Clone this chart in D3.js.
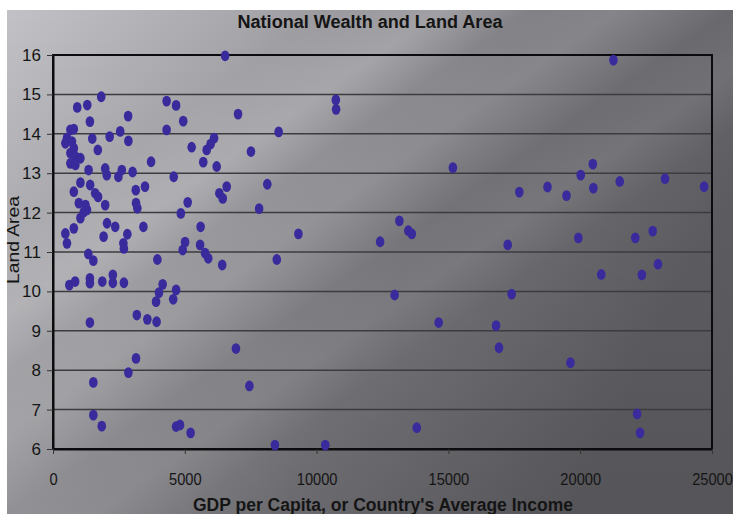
<!DOCTYPE html>
<html><head><meta charset="utf-8">
<script src="https://cdn.jsdelivr.net/npm/d3@7"></script>
<style>
body{margin:0;background:#fff;}
svg{display:block;}
</style></head>
<body>
<svg id="c" width="733" height="514"></svg>
<script>
const title = "National Wealth and Land Area";
const xTitle = "GDP per Capita, or Country's Average Income";
const yTitle = "Land Area";
const xTicks = [0, 5000, 10000, 15000, 20000, 25000];
const yTicks = [6, 7, 8, 9, 10, 11, 12, 13, 14, 15, 16];
// GDP per capita values
const gdp = [
 6530,1830,920,1300,4310,4670,7020,2850,1400,4940,4310,2550,2150,1490,2860,6110,5980,5830,5260,1700,
 3720,5700,6210,1980,2040,2610,2480,3020,4580,1350,1040,1410,790,1600,1710,3140,3490,6590,6310,6440,
 980,1230,1980,3150,3200,5110,1170,1290,1040,4850,2050,2360,790,3430,5600,470,1920,2820,530,2670,
 5010,5580,2690,4920,5770,5890,1340,1530,3960,6420,620,840,1400,1400,1870,2270,2270,2690,4160,4020,
 3910,4670,4560,1400,3180,3580,3930,6940,3150,2860,1530,1530,1850,4670,4820,5220,
 10730,10740,8560,7510,15170,8130,7820,13140,13480,13610,9310,12410,8490,12960,14630,7450,13800,8420,10330,
 21260,20480,20020,18760,17690,19480,20500,21500,23220,24700,17250,19930,22090,22750,22950,20800,22340,17400,16810,16920,
 19630,22160,22270,
 660,790,530,470,720,790,660,850,1040,660,850
];
// Land area values
const land = [
 15.98,14.94,14.67,14.73,14.83,14.72,14.50,14.45,14.31,14.32,14.10,14.06,13.93,13.88,13.82,13.89,13.74,13.59,13.66,13.59,
 13.29,13.28,13.17,13.12,12.95,13.08,12.91,13.03,12.91,13.08,12.76,12.70,12.53,12.49,12.40,12.57,12.66,12.66,12.49,12.36,
 12.24,12.19,12.19,12.24,12.11,12.26,12.02,12.07,11.86,11.98,11.73,11.64,11.60,11.64,11.64,11.47,11.39,11.45,11.22,11.22,
 11.25,11.18,11.09,11.05,10.97,10.84,10.95,10.78,10.81,10.67,10.16,10.25,10.33,10.21,10.25,10.42,10.22,10.22,10.18,9.97,
 9.74,10.04,9.80,9.21,9.40,9.29,9.23,8.55,8.30,7.94,7.69,6.86,6.58,6.57,6.61,6.41,
 14.86,14.62,14.05,13.55,13.14,12.72,12.10,11.79,11.54,11.46,11.46,11.26,10.81,9.91,9.21,7.60,6.54,6.10,6.10,
 15.87,13.23,12.95,12.65,12.52,12.43,12.62,12.79,12.86,12.66,11.18,11.36,11.36,11.53,10.69,10.43,10.42,9.93,9.13,8.57,
 8.19,6.89,6.41,
 14.10,14.12,13.89,13.76,13.80,13.63,13.51,13.42,13.38,13.25,13.21
];
const points = gdp.map((g,i)=>({g, a: land[i]}));

const svg = d3.select("#c");
const W = 733, H = 514;
const L = 53, R = 712, T = 55, B = 449;
const FONT = "'Liberation Sans',Arial,sans-serif";

function narrow(sel, f){
  sel.each(function(){
    const w = this.getComputedTextLength();
    d3.select(this).attr("textLength", w*f).attr("lengthAdjust","spacingAndGlyphs");
  });
}

const defs = svg.append("defs");
const bg = defs.append("linearGradient").attr("id","bg").attr("x1","0").attr("y1","0").attr("x2","1").attr("y2","0.35");
bg.append("stop").attr("offset","0").attr("stop-color","#c2c1c6");
bg.append("stop").attr("offset","0.3").attr("stop-color","#a7a6ab");
bg.append("stop").attr("offset","0.65").attr("stop-color","#7a797e");
bg.append("stop").attr("offset","1").attr("stop-color","#616065");
const sheen = defs.append("linearGradient").attr("id","sheen").attr("x1","0").attr("y1","0").attr("x2","1").attr("y2","1");
[[0,0],[0.22,0.0],[0.3,0.2],[0.36,0.05],[0.42,0.13],[0.5,0.0],[0.56,0.08],[0.62,0],[1,0]].forEach(([o,a])=>
  sheen.append("stop").attr("offset",o).attr("stop-color","#ffffff").attr("stop-opacity",a));
const vshade = defs.append("linearGradient").attr("id","vshade").attr("x1","0").attr("y1","0").attr("x2","0").attr("y2","1");
vshade.append("stop").attr("offset","0").attr("stop-color","#000").attr("stop-opacity",0);
vshade.append("stop").attr("offset","1").attr("stop-color","#000").attr("stop-opacity",0.12);

["url(#bg)","url(#sheen)","url(#vshade)"].forEach(f=>
  svg.append("rect").attr("x",7).attr("y",10).attr("width",W-7).attr("height",H-10).attr("fill",f));

const x = d3.scaleLinear().domain([0,25000]).range([L,R]);
const y = d3.scaleLinear().domain([6,16]).range([B,T]);

// gridlines
svg.append("g").selectAll("line").data(yTicks.filter(t=>t>6 && t<16)).join("line")
  .attr("x1",L).attr("x2",R).attr("y1",d=>y(d)).attr("y2",d=>y(d))
  .attr("stroke","#3c3c40").attr("stroke-width",1.5);

// frame
svg.append("rect").attr("x",L).attr("y",T).attr("width",R-L).attr("height",B-T)
  .attr("fill","none").attr("stroke","#0c0c0e").attr("stroke-width",2);

// axes
const yAxis = d3.axisLeft(y).tickValues(yTicks).tickSize(6).tickSizeOuter(0).tickPadding(6);
const gy = svg.append("g").attr("transform",`translate(${L},0)`).call(yAxis);
gy.select(".domain").attr("stroke","#0c0c0e").attr("stroke-width",2);
gy.selectAll(".tick line").attr("stroke","#333");
gy.selectAll("text").attr("font-family",FONT).attr("font-size",17).attr("fill","#151515");

const xAxis = d3.axisBottom(x).tickValues(xTicks).tickSize(5).tickSizeOuter(0).tickPadding(19).tickFormat(d3.format("d"));
const gx = svg.append("g").attr("transform",`translate(0,${B})`).call(xAxis);
gx.select(".domain").attr("stroke","#0c0c0e").attr("stroke-width",2);
gx.selectAll(".tick line").attr("stroke","#333");
gx.selectAll("text").attr("font-family",FONT).attr("font-size",17).attr("fill","#151515").call(narrow,0.86);

// points
svg.append("g").selectAll("ellipse").data(points).join("ellipse")
  .attr("cx",d=>x(d.g)).attr("cy",d=>y(d.a)).attr("rx",4.3).attr("ry",5.4)
  .attr("fill","#3a2b9c");

// titles
svg.append("text").attr("x",370).attr("y",28).attr("text-anchor","middle").attr("font-family",FONT)
  .attr("font-size",18).attr("font-weight","bold").attr("fill","#151515").text(title)
  .attr("textLength",265).attr("lengthAdjust","spacingAndGlyphs");
svg.append("text").attr("x",383).attr("y",511).attr("text-anchor","middle").attr("font-family",FONT)
  .attr("font-size",18).attr("font-weight","bold").attr("fill","#151515").text(xTitle)
  .attr("textLength",380).attr("lengthAdjust","spacingAndGlyphs");
svg.append("text").attr("transform","translate(19,240) rotate(-90)").attr("text-anchor","middle")
  .attr("font-family",FONT).attr("font-size",17).attr("fill","#151515").text(yTitle)
  .attr("textLength",88).attr("lengthAdjust","spacingAndGlyphs");
</script>
</body></html>
